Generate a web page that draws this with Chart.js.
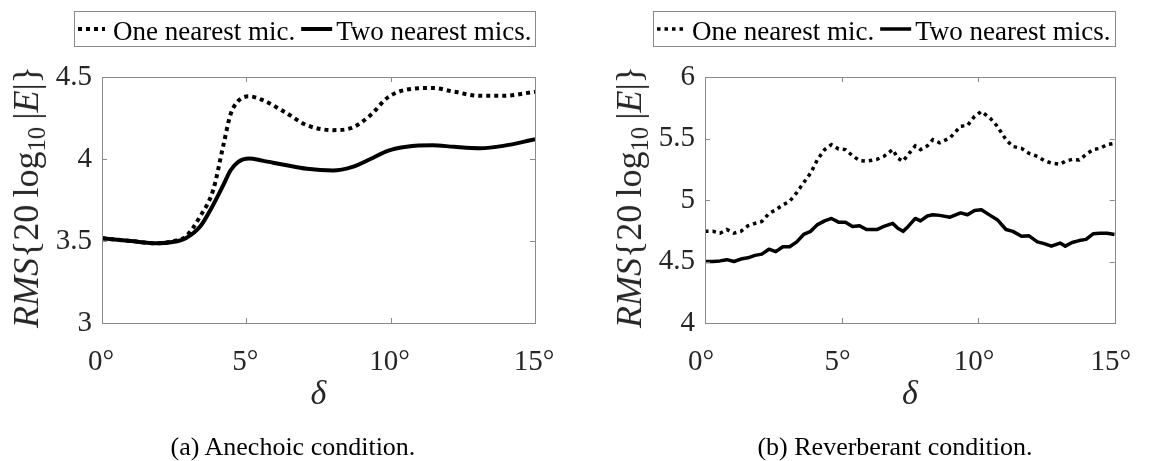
<!DOCTYPE html>
<html><head><meta charset="utf-8">
<script src="https://cdn.jsdelivr.net/npm/chart.js@4.4.1/dist/chart.umd.min.js"></script>
<style>
html,body{margin:0;padding:0;background:#fff;width:1157px;height:461px;overflow:hidden;}
.wrap{position:absolute;top:0;height:461px;}
.ytitle{position:absolute;font-family:"Liberation Serif","Times New Roman",serif;font-size:36px;line-height:1;color:#262626;white-space:nowrap;transform:translate(-50%,-50%) rotate(-90deg);}
.ytitle sub{font-size:0.68em;vertical-align:-0.3em;line-height:0;}
.caption{position:absolute;font-family:"Liberation Serif","Times New Roman",serif;font-size:26px;line-height:1;color:#000;white-space:nowrap;transform:translate(-50%,-50%);}
</style></head>
<body>
<div class="wrap" style="left:0;width:580px;"><canvas id="c1" width="580" height="461"></canvas></div>
<div class="wrap" style="left:580px;width:577px;"><canvas id="c2" width="577" height="461"></canvas></div>
<div class="ytitle" style="left:26px;top:197px;"><i>RMS</i>{20&thinsp;log<sub>10</sub>&thinsp;|<i>E</i>|}</div>
<div class="ytitle" style="left:629px;top:197px;"><i>RMS</i>{20&thinsp;log<sub>10</sub>&thinsp;|<i>E</i>|}</div>
<div class="caption" style="left:293px;top:447px;">(a) Anechoic condition.</div>
<div class="caption" style="left:895px;top:447px;">(b) Reverberant condition.</div>
<script>
// ---- data ----
const seriesLabels = ['One nearest mic.', 'Two nearest mics.'];
const xTicks = [0, 5, 10, 15];

const anechoicDelta = [0, 1.0, 1.9, 2.5, 2.9, 3.4, 3.85, 4.2, 4.45, 4.7, 5.1, 5.55, 6.3, 7.1, 8.0, 8.65, 9.3, 9.9, 10.55, 11.45, 12.2, 13.1, 13.9, 15];
const anechoicOne = [3.517, 3.50, 3.486, 3.50, 3.527, 3.65, 3.81, 4.08, 4.27, 4.35, 4.382, 4.36, 4.29, 4.206, 4.176, 4.19, 4.267, 4.375, 4.423, 4.433, 4.41, 4.385, 4.385, 4.41];
const anechoicTwo = [3.517, 3.50, 3.486, 3.495, 3.517, 3.588, 3.72, 3.84, 3.93, 3.98, 4.003, 3.99, 3.965, 3.94, 3.93, 3.95, 4.0, 4.05, 4.075, 4.084, 4.074, 4.066, 4.08, 4.12];
const anechoicYTicks = [3, 3.5, 4, 4.5];

const reverbDelta = [0, 0.29, 0.55, 0.8, 1.06, 1.31, 1.57, 1.83, 2.08, 2.34, 2.59, 2.85, 3.1, 3.36, 3.61, 3.87, 4.12, 4.38, 4.63, 4.89, 5.14, 5.4, 5.66, 5.91, 6.29, 6.55, 6.87, 7.06, 7.25, 7.44, 7.7, 7.89, 8.14, 8.34, 8.59, 8.97, 9.36, 9.61, 9.87, 10.12, 10.44, 10.7, 11.02, 11.27, 11.59, 11.85, 12.17, 12.42, 12.68, 13.0, 13.19, 13.44, 13.7, 13.95, 14.21, 14.46, 14.72, 15];
const reverbOne = [4.745, 4.745, 4.73, 4.76, 4.73, 4.745, 4.79, 4.81, 4.825, 4.89, 4.92, 4.96, 4.99, 5.06, 5.14, 5.22, 5.33, 5.41, 5.45, 5.415, 5.41, 5.36, 5.32, 5.315, 5.33, 5.355, 5.41, 5.34, 5.315, 5.37, 5.44, 5.41, 5.44, 5.49, 5.465, 5.505, 5.60, 5.605, 5.68, 5.72, 5.665, 5.60, 5.49, 5.435, 5.42, 5.38, 5.355, 5.32, 5.30, 5.29, 5.315, 5.33, 5.325, 5.37, 5.41, 5.42, 5.45, 5.46];
const reverbTwo = [4.50, 4.50, 4.505, 4.515, 4.50, 4.52, 4.53, 4.55, 4.56, 4.60, 4.58, 4.62, 4.62, 4.66, 4.72, 4.745, 4.80, 4.83, 4.85, 4.82, 4.82, 4.785, 4.79, 4.76, 4.76, 4.785, 4.81, 4.77, 4.745, 4.785, 4.85, 4.83, 4.87, 4.88, 4.875, 4.86, 4.895, 4.88, 4.915, 4.92, 4.875, 4.84, 4.76, 4.745, 4.705, 4.71, 4.66, 4.645, 4.625, 4.65, 4.625, 4.655, 4.67, 4.68, 4.725, 4.73, 4.73, 4.72];
const reverbYTicks = [4, 4.5, 5, 5.5, 6];

// ---- plugins ----
const SERIF = '"Liberation Serif", "Times New Roman", serif';
const FRAME = '#8a8a8a';
const framePlugin = {
  id: 'frameTicks',
  afterDatasetsDraw(chart) {
    const {ctx, chartArea: ca} = chart;
    const xs = chart.scales.x, ys = chart.scales.y;
    ctx.save();
    ctx.strokeStyle = FRAME; ctx.lineWidth = 1; ctx.setLineDash([]);
    ctx.strokeRect(Math.round(ca.left) + 0.5, Math.round(ca.top) + 0.5, Math.round(ca.right - ca.left), Math.round(ca.bottom - ca.top));
    const L = 5;
    ctx.beginPath();
    xs.ticks.forEach(t => {
      const px = Math.round(xs.getPixelForValue(t.value)) + 0.5;
      ctx.moveTo(px, ca.bottom); ctx.lineTo(px, ca.bottom - L);
      ctx.moveTo(px, ca.top); ctx.lineTo(px, ca.top + L);
    });
    ys.ticks.forEach(t => {
      const py = Math.round(ys.getPixelForValue(t.value)) + 0.5;
      ctx.moveTo(ca.left, py); ctx.lineTo(ca.left + L, py);
      ctx.moveTo(ca.right, py); ctx.lineTo(ca.right - L, py);
    });
    ctx.stroke();
    ctx.restore();
  }
};
const legendPlugin = {
  id: 'boxLegend',
  afterDraw(chart, args, opts) {
    const ctx = chart.ctx, ca = chart.chartArea;
    const right = Math.round(ca.right), left = right - opts.boxWidth;
    const top = 11, bottom = 46, cy = 29;
    ctx.save();
    ctx.strokeStyle = FRAME; ctx.lineWidth = 1;
    ctx.strokeRect(left + 0.5, top + 0.5, right - left, bottom - top);
    ctx.font = '27px ' + SERIF;
    ctx.textBaseline = 'alphabetic';
    ctx.fillStyle = '#000';
    let x = left + 4;
    chart.data.datasets.forEach((ds, i) => {
      const sw = i === 0 ? 27 : 31;
      ctx.beginPath();
      ctx.setLineDash(ds.borderDash || []);
      ctx.lineWidth = ds.borderWidth;
      ctx.strokeStyle = ds.borderColor;
      ctx.moveTo(x, cy); ctx.lineTo(x + sw, cy); ctx.stroke();
      ctx.setLineDash([]);
      x += sw + (i === 0 ? 8 : 4);
      ctx.fillText(ds.label, x, 40);
      x += ctx.measureText(ds.label).width + 6;
    });
    ctx.restore();
  }
};

function pts(xa, ya) { return xa.map((x, i) => ({x: x, y: ya[i]})); }

function makeChart(id, cfg) {
  const tickFont = {family: SERIF, size: 29};
  return new Chart(document.getElementById(id), {
    type: 'line',
    data: {
      datasets: [
        {label: seriesLabels[0], data: pts(cfg.delta, cfg.one), borderColor: '#000', borderWidth: cfg.lw, borderDash: cfg.dash, pointRadius: 0, fill: false, cubicInterpolationMode: cfg.smooth ? 'monotone' : 'default', tension: 0, borderCapStyle: 'butt'},
        {label: seriesLabels[1], data: pts(cfg.delta, cfg.two), borderColor: '#000', borderWidth: cfg.lw, pointRadius: 0, fill: false, cubicInterpolationMode: cfg.smooth ? 'monotone' : 'default', tension: 0, borderJoinStyle: 'round'}
      ]
    },
    options: {
      responsive: false, animation: false, devicePixelRatio: 1,
      layout: {padding: {left: 0, right: cfg.padRight, top: 77, bottom: 0}},
      plugins: {legend: {display: false}, tooltip: {enabled: false}, boxLegend: {boxWidth: cfg.legendW}},
      scales: {
        x: {
          type: 'linear', min: 0, max: 15,
          afterFit(s) { s.height = 138; },
          afterBuildTicks(s) { s.ticks = xTicks.map(v => ({value: v})); },
          ticks: {callback: v => v + '°', font: tickFont, color: '#262626', padding: 22, labelOffset: cfg.labelOffset, maxRotation: 0, autoSkip: false},
          grid: {display: false, drawTicks: false, tickLength: 0},
          border: {display: false},
          title: {display: true, text: 'δ', font: {family: SERIF, size: 34, style: 'italic', lineHeight: 1}, color: '#262626', padding: {top: 0, bottom: 49}}
        },
        y: {
          min: cfg.ymin, max: cfg.ymax,
          afterFit(s) { s.width = cfg.yWidth; },
          afterBuildTicks(s) { s.ticks = cfg.yTicks.map(v => ({value: v})); },
          ticks: {callback: v => String(v), font: tickFont, color: '#262626', padding: 10},
          grid: {display: false, drawTicks: false, tickLength: 0},
          border: {display: false}
        }
      }
    },
    plugins: [framePlugin, legendPlugin]
  });
}

makeChart('c1', {delta: anechoicDelta, one: anechoicOne, two: anechoicTwo, yTicks: anechoicYTicks, ymin: 3, ymax: 4.5, lw: 4, dash: [4, 4], smooth: true, padRight: 45, yWidth: 102, legendW: 461, labelOffset: -1});
makeChart('c2', {delta: reverbDelta, one: reverbOne, two: reverbTwo, yTicks: reverbYTicks, ymin: 4, ymax: 6, lw: 3.5, dash: [3.5, 4], smooth: false, padRight: 18, yWidth: 125, legendW: 462, labelOffset: -4});
</script>
</body></html>
